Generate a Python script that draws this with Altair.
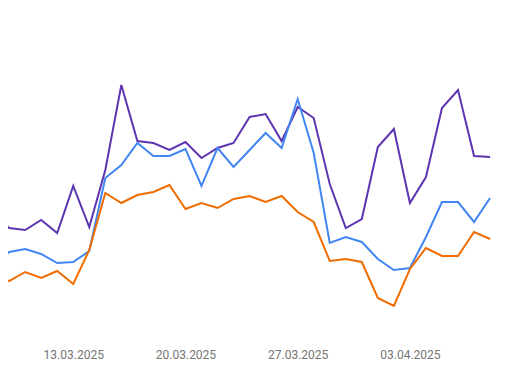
import altair as alt
import pandas as pd

dates = pd.date_range("2025-03-08", "2025-04-08", freq="D").strftime("%Y-%m-%d").tolist()

# values (arbitrary units, no y axis shown)
purple = [128, 112, 110, 120, 107, 154, 113, 170, 255, 199, 197, 190, 198, 182, 192,
          197, 223, 226, 199, 233, 222, 156, 112, 121, 193, 211, 137, 163, 232, 250, 184, 183]
blue = [75, 88, 91, 86, 77, 78, 89, 162, 175, 197, 184, 184, 191, 154, 192,
        173, 190, 207, 192, 241, 187, 97, 103, 98, 81, 70, 72, 103, 138, 138, 118, 142]
orange = [68, 59, 68, 62, 69, 56, 90, 147, 137, 145, 148, 155, 131, 137, 132,
          141, 144, 138, 144, 128, 118, 79, 81, 78, 42, 34, 71, 92, 84, 84, 108, 101]

series_names = ["Purple", "Blue", "Orange"]
series_colors = ["#5e35b1", "#4285f4", "#ef6c00"]

rows = []
for name, vals in zip(series_names, [purple, blue, orange]):
    for d, v in zip(dates, vals):
        rows.append({"date": d, "value": v, "series": name})
df = pd.DataFrame(rows)

tick_dates = [alt.DateTime(year=2025, month=3, date=13, utc=True),
              alt.DateTime(year=2025, month=3, date=20, utc=True),
              alt.DateTime(year=2025, month=3, date=27, utc=True),
              alt.DateTime(year=2025, month=4, date=3, utc=True)]

chart = alt.Chart(df).mark_line(strokeWidth=2, clip=True).encode(
    x=alt.X("date:T", title=None,
            scale=alt.Scale(type="utc",
                            domain=[alt.DateTime(year=2025, month=3, date=8, hours=22, minutes=20, utc=True),
                                    alt.DateTime(year=2025, month=4, date=9, hours=4, minutes=20, utc=True)]),
            axis=alt.Axis(values=tick_dates, format="%d.%m.%Y", domain=False, ticks=False,
                          tickSize=0, grid=False, labelPadding=9, labelFont="Roboto",
                          labelFontSize=12, labelColor="#757575")),
    y=alt.Y("value:Q", title=None, scale=alt.Scale(domain=[0, 332], nice=False, zero=False),
            axis=None),
    color=alt.Color("series:N", legend=None,
                    scale=alt.Scale(domain=series_names, range=series_colors)),
).properties(width=501, height=332, padding=0).configure_view(stroke=None)

chart.save("out.html", embed_options={"renderer": "svg", "actions": False})
